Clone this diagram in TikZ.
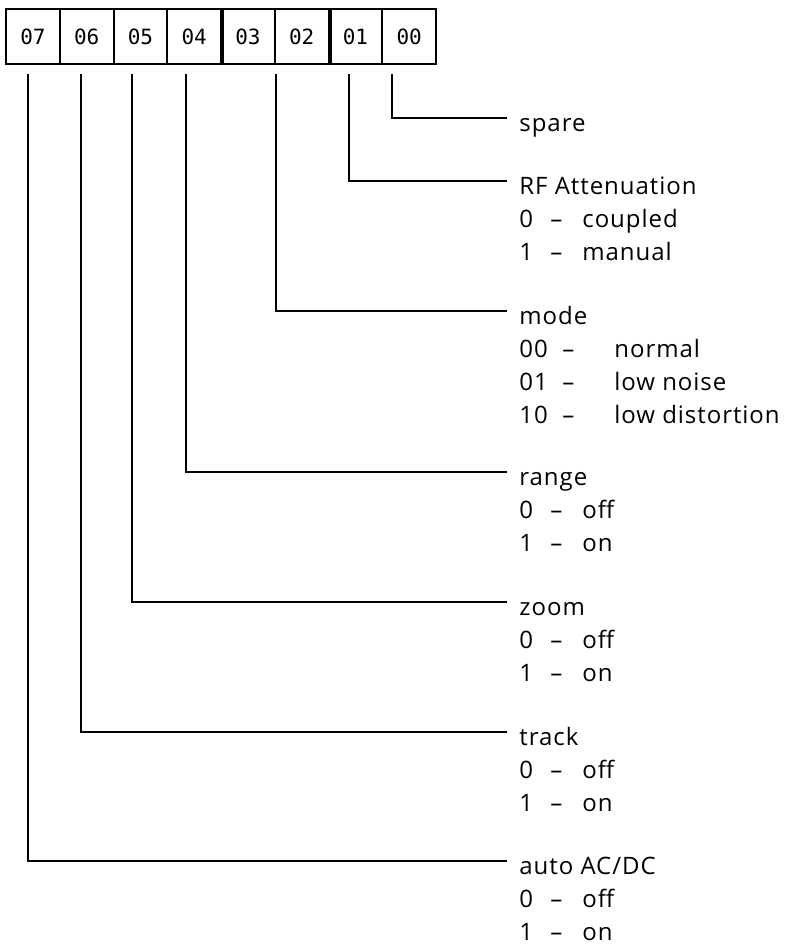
\documentclass[tikz,border=0pt]{standalone}
\usepackage{fontspec}
\setmainfont{Open Sans}[LetterSpace=4]
\newfontfamily\bitfont{DejaVu Sans Mono}
\usetikzlibrary{positioning}
\newcommand\bitval[2]{\makebox[15.5pt][l]{#1}\makebox[16pt][l]{\textendash}#2}
\newcommand\modeval[2]{\makebox[21.5pt][l]{#1}\makebox[26pt][l]{\textendash}#2}
\newcommand\fieldtext[1]{\begin{tabular}[t]{@{}l@{}}#1\end{tabular}}

\begin{document}
\begin{tikzpicture}[x=.5pt,y=-.5pt,bitbox/.style={draw,line width=1pt,minimum width=26.875pt,minimum height=27.5pt,inner sep=0pt,font=\bitfont\fontsize{10.5}{10.5}\selectfont},lbl/.style={anchor=base west,inner xsep=6pt,inner ysep=0pt,font=\fontsize{12}{16.5}\selectfont},wire/.style={line width=1pt}]
\useasboundingbox (0,0) rectangle (791,948);

% register bits, most significant first
\foreach \b [count=\i from 0] in {07,06,05,04,03,02,01,00}{
 \node[bitbox] (b\b) at (32.9+\i*53.75,36.5) {\b};
}
\draw[line width=2pt] (b04.north east)--(b04.south east);
\draw[line width=2pt] (b02.north east)--(b02.south east);

\node[lbl] (spare) at (507,131) {spare};
\node[lbl] (rfatt) at (507,194) {\fieldtext{RF Attenuation\\\bitval{0}{coupled}\\\bitval{1}{manual}}};
\node[lbl] (mode) at (507,324) {\fieldtext{mode\\\modeval{00}{normal}\\\modeval{01}{low noise}\\\modeval{10}{low distortion}}};
\node[lbl] (range) at (507,485) {\fieldtext{range\\\bitval{0}{off}\\\bitval{1}{on}}};
\node[lbl] (zoom) at (507,615) {\fieldtext{zoom\\\bitval{0}{off}\\\bitval{1}{on}}};
\node[lbl] (track) at (507,745) {\fieldtext{track\\\bitval{0}{off}\\\bitval{1}{on}}};
\node[lbl] (autoacdc) at (507,874) {\fieldtext{auto AC/DC\\\bitval{0}{off}\\\bitval{1}{on}}};

% one leader per field; mode spans bits 03 and 02
\draw[wire] ([xshift=-8.5pt,yshift=-4.5pt]b00.south) |- ([yshift=6.5pt]spare.base west);
\draw[wire] ([xshift=-3pt,yshift=-4.5pt]b01.south) |- ([yshift=6.5pt]rfatt.base west);
\draw[wire] ([yshift=-4.5pt]b03.south east) |- ([yshift=6.5pt]mode.base west);
\draw[wire] ([xshift=-4.25pt,yshift=-4.5pt]b04.south) |- ([yshift=6.5pt]range.base west);
\draw[wire] ([xshift=-4pt,yshift=-4.5pt]b05.south) |- ([yshift=6.5pt]zoom.base west);
\draw[wire] ([xshift=-2.75pt,yshift=-4.5pt]b06.south) |- ([yshift=6.5pt]track.base west);
\draw[wire] ([xshift=-2.5pt,yshift=-4.5pt]b07.south) |- ([yshift=6.5pt]autoacdc.base west);
\end{tikzpicture}
\end{document}
